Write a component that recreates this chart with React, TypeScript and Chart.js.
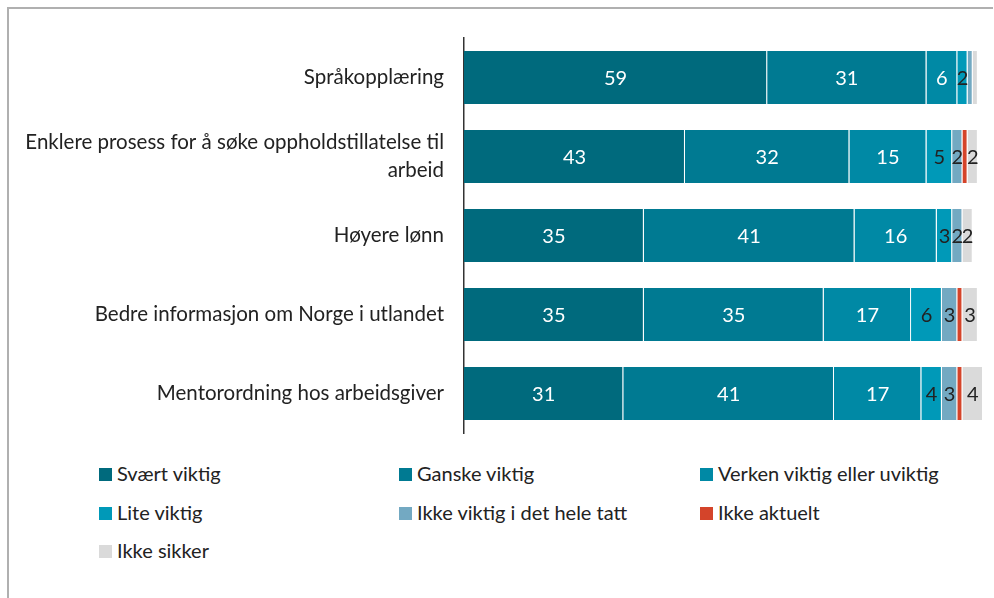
import React, { useEffect, useRef } from "react";
import { Chart, registerables } from "chart.js";

Chart.register(...registerables);

const categories: (string | string[])[] = [
  "Språkopplæring",
  ["Enklere prosess for å søke oppholdstillatelse til", "arbeid"],
  "Høyere lønn",
  "Bedre informasjon om Norge i utlandet",
  "Mentorordning hos arbeidsgiver",
];

const seriesNames = [
  "Svært viktig",
  "Ganske viktig",
  "Verken viktig eller uviktig",
  "Lite viktig",
  "Ikke viktig i det hele tatt",
  "Ikke aktuelt",
  "Ikke sikker",
];

const sværtViktig = [59, 43, 35, 35, 31];
const ganskeViktig = [31, 32, 41, 35, 41];
const verken = [6, 15, 16, 17, 17];
const liteViktig = [2, 5, 3, 6, 4];
const ikkeViktig = [1, 2, 2, 3, 3];
const ikkeAktuelt = [0, 1, 0, 1, 1];
const ikkeSikker = [1, 2, 2, 3, 4];

const seriesValues = [sværtViktig, ganskeViktig, verken, liteViktig, ikkeViktig, ikkeAktuelt, ikkeSikker];
const colors = ["#006a7d", "#007a92", "#0089a5", "#0099b8", "#73a9c2", "#d4442a", "#dadada"];
const labelColors = ["#ffffff", "#ffffff", "#ffffff", "#222222", "#222222", "#222222", "#222222"];

const FONT = "Lato, 'Noto Sans', sans-serif";

const valueLabels = {
  id: "valueLabels",
  afterDatasetsDraw(chart: any) {
    const ctx = chart.ctx;
    ctx.save();
    ctx.font = `20px ${FONT}`;
    ctx.textAlign = "center";
    ctx.textBaseline = "middle";
    chart.data.datasets.forEach((ds: any, di: number) => {
      const meta = chart.getDatasetMeta(di);
      meta.data.forEach((bar: any, i: number) => {
        const v = ds.data[i];
        if (v < 2) return;
        const cx = (bar.x + bar.base) / 2;
        ctx.fillStyle = labelColors[di];
        ctx.fillText(String(v), cx, bar.y + 1);
      });
    });
    ctx.restore();
  },
};

export default function App() {
  const ref = useRef<HTMLCanvasElement>(null);
  useEffect(() => {
    const chart = new Chart(ref.current!, {
      type: "bar",
      data: {
        labels: categories,
        datasets: seriesNames.map((name, i) => ({
          label: name,
          data: seriesValues[i],
          backgroundColor: colors[i],
          borderColor: "rgba(255,255,255,0.35)",
          borderWidth: { left: 0, right: 1, top: 0, bottom: 0 },
          borderSkipped: false,
          barPercentage: 0.67,
          categoryPercentage: 1,
        })),
      },
      options: {
        indexAxis: "y",
        animation: false,
        responsive: false,
        maintainAspectRatio: false,
        layout: { padding: { top: 30, bottom: 7, right: 10, left: 0 } },
        plugins: { legend: { display: false }, tooltip: { enabled: false } },
        scales: {
          x: {
            stacked: true,
            min: 0,
            max: 101,
            display: false,
          },
          y: {
            stacked: true,
            grid: { display: false, drawTicks: false },
            border: { display: true, color: "#333333", width: 1.5 },
            ticks: {
              padding: 20,
              color: "#222222",
              font: { family: FONT, size: 20.5, lineHeight: 1.37 },
            },
            afterFit(scale: any) {
              scale.width = 456;
              scale.paddingTop = 0;
              scale.paddingBottom = 0;
            },
          },
        },
      },
      plugins: [valueLabels],
    });
    return () => chart.destroy();
  }, []);

  const legendPos = [
    [99, 463],
    [399, 463],
    [700, 463],
    [99, 502],
    [399, 502],
    [700, 502],
    [99, 540],
  ];

  return (
    <div
      style={{
        position: "absolute",
        left: 7,
        top: 7,
        width: 986,
        height: 591,
        borderTop: "2px solid #b0b0b0",
        borderLeft: "2px solid #b0b0b0",
        boxSizing: "border-box",
        fontFamily: FONT,
      }}
    >
      <canvas ref={ref} width={985} height={432} style={{ position: "absolute", left: -1, top: -1, width: 985, height: 432 }} />
      {seriesNames.map((n, i) => (
        <div
          key={n}
          style={{
            position: "absolute",
            left: legendPos[i][0] - 9,
            top: legendPos[i][1] - 9,
            fontSize: 20,
            color: "#222",
            whiteSpace: "nowrap",
            lineHeight: "20px",
          }}
        >
          <span
            style={{
              display: "inline-block",
              width: 13,
              height: 13,
              background: colors[i],
              marginRight: 5,
              verticalAlign: "baseline",
            }}
          />
          {n}
        </div>
      ))}
    </div>
  );
}
